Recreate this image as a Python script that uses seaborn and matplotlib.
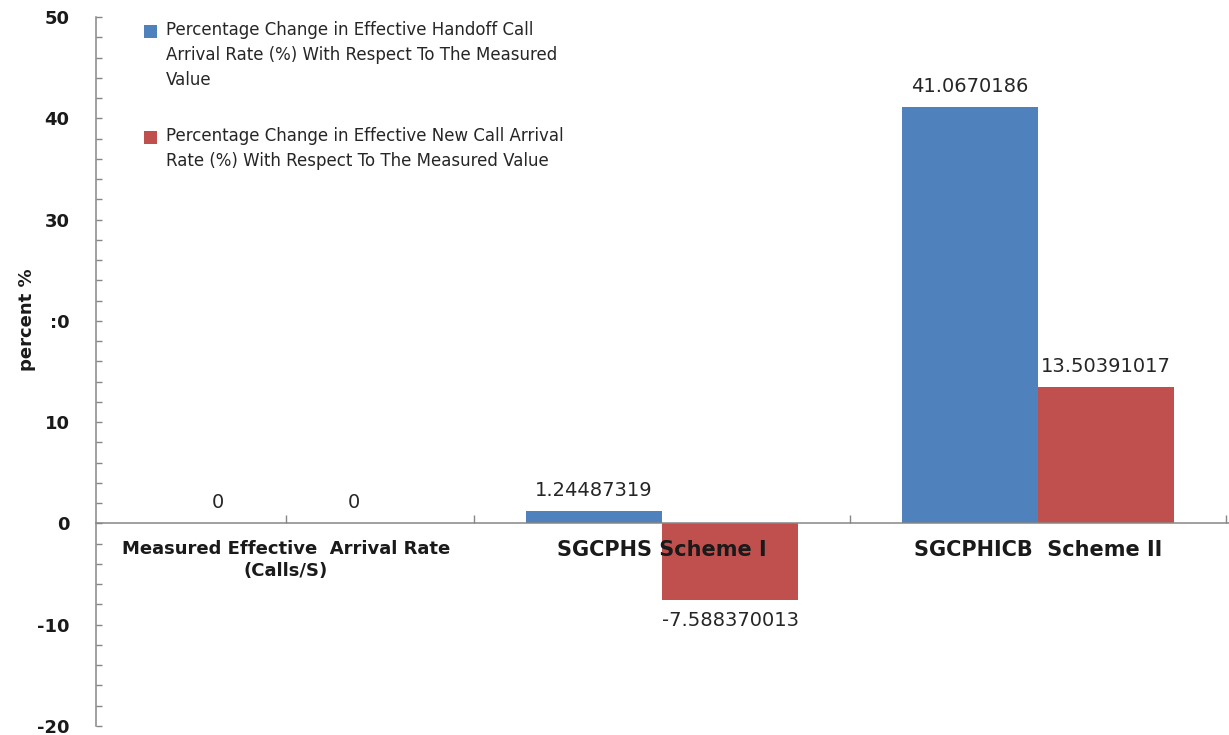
import matplotlib
matplotlib.use("Agg")
import matplotlib.pyplot as plt
from matplotlib.legend_handler import HandlerPatch
from matplotlib.patches import Rectangle
import seaborn as sns
import pandas as pd

# ---- data ----
categories = ["Measured Effective  Arrival Rate\n(Calls/S)",
              "SGCPHS Scheme I",
              "SGCPHICB  Scheme II"]
series_names = ["Percentage Change in Effective Handoff Call\nArrival Rate (%) With Respect To The Measured\nValue",
                "Percentage Change in Effective New Call Arrival\nRate (%) With Respect To The Measured Value"]
handoff_values = [0, 1.24487319, 41.0670186]
newcall_values = [0, -7.588370013, 13.50391017]
y_ticks = [-20, -10, 0, 10, 20, 30, 40, 50]
y_tick_labels = ["-20", "-10", "0", "10", ":0", "30", "40", "50"]
y_label = "percent %"

colors = ["#4F81BD", "#C0504D"]

df = pd.DataFrame({
    "category": categories * 2,
    "series": [series_names[0]] * 3 + [series_names[1]] * 3,
    "value": handoff_values + newcall_values,
})

sns.set_style("white")
plt.rcParams["font.family"] = ["DejaVu Sans"]

W, H = 1229, 735
fig = plt.figure(figsize=(W / 100, H / 100), dpi=100)
ax = fig.add_axes([96 / W, 9 / H, (W - 96) / W, 709 / H])

sns.barplot(data=df, x="category", y="value", hue="series", order=categories,
            hue_order=series_names, palette=colors, width=0.725,
            errorbar=None, saturation=1, linewidth=0, ax=ax, legend=True)

ax.set_xlim(-0.505, 2.508)
ax.set_ylim(-20, 50)
ax.set_axisbelow(False)

# spines
for s in ["top", "right"]:
    ax.spines[s].set_visible(False)
ax.spines["bottom"].set_position(("data", 0))
for s in ["left", "bottom"]:
    ax.spines[s].set_color("#868686")
    ax.spines[s].set_linewidth(1.1)

# y ticks
ax.set_yticks(y_ticks)
ax.set_yticklabels(y_tick_labels, fontweight="bold", fontsize=13, color="#1a1a1a")
ax.yaxis.set_minor_locator(matplotlib.ticker.MultipleLocator(2))
ax.tick_params(axis="y", which="both", direction="in", length=4, width=1,
               color="#868686", pad=19, left=True)

# x ticks
ax.xaxis.remove_overlapping_locs = False
ax.set_xticks(range(len(categories)))
ax.set_xticklabels(categories, fontweight="bold", color="#1a1a1a")
sizes = [13, 15, 15]
for lab, fs in zip(ax.get_xticklabels(), sizes):
    lab.set_fontsize(fs)
    lab.set_linespacing(1.3)
ax.tick_params(axis="x", which="major", length=0, pad=12)
ax.set_xticks([0, 0.5, 1.5, 2.5], minor=True)
ax.tick_params(axis="x", which="minor", direction="in", length=6, width=1,
               color="#868686", bottom=True)

ax.set_xlabel("")
ax.set_ylabel(y_label, fontweight="bold", fontsize=13, color="#1a1a1a")
ax.yaxis.set_label_coords(-0.0527, 0.573)

# value labels
for cont, vals in zip(ax.containers, [handoff_values, newcall_values]):
    ax.bar_label(cont, labels=[f"{v:.10g}" for v in vals], padding=8,
                 fontsize=14, color="#262626")


# legend: square aligned with the first text line
class TopHandler(HandlerPatch):
    def __init__(self, shift, **kw):
        super().__init__(**kw)
        self.shift = shift

    def _create_patch(self, legend, orig_handle, xdescent, ydescent, width, height, fontsize):
        return Rectangle(xy=(-xdescent, -ydescent + self.shift), width=width, height=height)


handles, labels = ax.get_legend_handles_labels()
line_pt = 25 * 0.72
hmap = {h: TopHandler((lab.count("\n")) / 2 * line_pt) for h, lab in zip(handles, labels)}
leg = ax.legend(handles, labels, loc="upper left", handler_map=hmap,
                bbox_to_anchor=(144 / W, 1 - 21 / H), bbox_transform=fig.transFigure,
                frameon=False, fontsize=12, handlelength=0.8, handleheight=0.8,
                handletextpad=0.5, labelspacing=2.3, borderpad=0, borderaxespad=0)
for t in leg.get_texts():
    t.set_linespacing(1.5)
    t.set_color("#262626")

fig.savefig("out.png", dpi=100, facecolor="white")
